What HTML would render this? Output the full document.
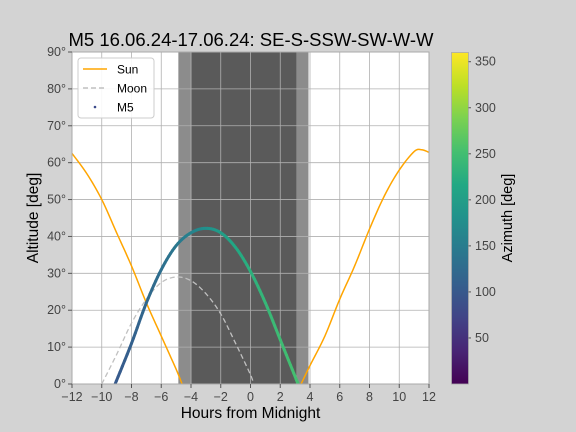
<!DOCTYPE html>
<html><head><meta charset="utf-8"><style>
body{margin:0;background:#d3d3d3}
svg{display:block;font-family:"Liberation Sans","DejaVu Sans",sans-serif}
</style></head><body>
<svg id="c" width="576" height="432" viewBox="0 0 576 432">
<rect width="576" height="432" fill="#d3d3d3"/>
<defs>
<linearGradient id="vir" x1="0" y1="1" x2="0" y2="0">
<stop offset="0" stop-color="#440154"/><stop offset="0.1" stop-color="#482475"/><stop offset="0.2" stop-color="#414487"/><stop offset="0.3" stop-color="#355f8d"/><stop offset="0.4" stop-color="#2a788e"/><stop offset="0.5" stop-color="#21918c"/><stop offset="0.6" stop-color="#22a884"/><stop offset="0.7" stop-color="#44bf70"/><stop offset="0.8" stop-color="#7ad151"/><stop offset="0.9" stop-color="#bddf26"/><stop offset="1" stop-color="#fde725"/>
</linearGradient>
<clipPath id="pc"><rect x="72" y="52" width="357" height="332"/></clipPath>
</defs>
<text x="251" y="46" font-size="18.5" text-anchor="middle">M5 16.06.24-17.06.24: SE-S-SSW-SW-W-W</text>
<rect x="72" y="52" width="357" height="332" fill="#fff"/>
<g id="shade"></g>
<g id="grid"></g>
<g id="series" clip-path="url(#pc)"></g>
<rect x="72" y="52" width="357" height="332" fill="none" stroke="#aaa" stroke-width="1"/>
<g id="ticks"></g>
<text x="250.5" y="418" font-size="15.5" text-anchor="middle">Hours from Midnight</text>
<text transform="translate(38,218) rotate(-90)" font-size="15.5" text-anchor="middle">Altitude [deg]</text>
<g>
<rect x="78" y="58" width="76" height="60" rx="3" fill="#fff" fill-opacity="0.9" stroke="#ccc"/>
<line x1="83" y1="69" x2="107" y2="69" stroke="#ffa500" stroke-width="1.5"/>
<text x="117" y="73.5" font-size="12">Sun</text>
<line x1="83" y1="88" x2="107" y2="88" stroke="#c0c0c0" stroke-width="1.5" stroke-dasharray="5,3"/>
<text x="117" y="92.5" font-size="12">Moon</text>
<circle cx="95" cy="107" r="1.3" fill="#3b4a8a"/>
<text x="117" y="111.5" font-size="12">M5</text>
</g>
<rect x="451.5" y="52.5" width="17" height="331.5" fill="url(#vir)" stroke="#aaa" stroke-width="0.8"/>
<g id="cbt"></g>
<text transform="translate(512,218) rotate(-90)" font-size="14.5" text-anchor="middle">Azimuth [deg]</text>
</svg>
<script>
const sunHours=[-12,-11,-10,-9,-8,-7,-6,-5,-4.6,3.4,4,5,6,7,8,9,10,11,11.5,12];
const sunAlt=[62.5,57,50,41,32,22,13,4,0,0,5,13,23,32,42,51,58,63,63.5,62.8];
const moonHours=[-10,-9,-8,-7,-6,-5,-4,-3,-2,-1,0,0.2];
const moonAlt=[0,8,16.5,23,27.5,29,28,24.5,19,11,2.5,0];
const m5Hours=[-9.1,-8,-7,-6,-5,-4,-3,-2,-1,0,1,2,3,3.2];
const m5Alt=[0,11,22,31,37.5,41,42.2,41,37,30.5,22,12,2,0];
const m5Az=[100,110,120,130,142,158,178,198,215,228,238,246,252,253];
const twilight=[[-4.85,-3.97,'#8c8c8c'],[-3.97,3.1,'#5a5a5a'],[3.1,3.9,'#8c8c8c']];
const xTicks=[-12,-10,-8,-6,-4,-2,0,2,4,6,8,10,12];
const yTicks=[0,10,20,30,40,50,60,70,80,90];
const cbTicks=[50,100,150,200,250,300,350];
const NS='http://www.w3.org/2000/svg';
const X=h=>72+(h+12)/24*357, Y=a=>384-a/90*332, CB=v=>384-v/360*331.5;
function mk(t,a,p){const e=document.createElementNS(NS,t);for(const k in a)e.setAttribute(k,a[k]);document.getElementById(p).appendChild(e);return e;}
const vir=['#440154','#482475','#414487','#355f8d','#2a788e','#21918c','#22a884','#44bf70','#7ad151','#bddf26','#fde725'];
function hx(s){return [1,3,5].map(i=>parseInt(s.substr(i,2),16));}
function viridis(t){t=Math.max(0,Math.min(1,t))*10;const i=Math.min(9,Math.floor(t)),f=t-i;const a=hx(vir[i]),b=hx(vir[i+1]);return 'rgb('+a.map((v,k)=>Math.round(v+(b[k]-v)*f)).join(',')+')';}
// Catmull-Rom smoothing of pixel points
function smooth(px,n){const out=[];for(let i=0;i<px.length-1;i++){const p0=px[Math.max(0,i-1)],p1=px[i],p2=px[i+1],p3=px[Math.min(px.length-1,i+2)];
for(let k=0;k<n;k++){const t=k/n,t2=t*t,t3=t2*t;const f=(a,b,c,d)=>0.5*(2*b+(-a+c)*t+(2*a-5*b+4*c-d)*t2+(-a+3*b-3*c+d)*t3);
out.push([f(p0[0],p1[0],p2[0],p3[0]),f(p0[1],p1[1],p2[1],p3[1]),i+t]);}}
const l=px[px.length-1];out.push([l[0],l[1],px.length-1]);return out;}
twilight.forEach(s=>{const r=mk('rect',{x:X(s[0]),y:52,width:X(s[1])-X(s[0]),height:332,fill:s[2]},'shade');

});
xTicks.forEach(v=>{const l=mk('line',{x1:X(v),x2:X(v),y1:52,y2:384,stroke:'#b0b0b0','stroke-width':0.8},'grid');


mk('line',{x1:X(v),x2:X(v),y1:384,y2:388,stroke:'#555'},'ticks');
const t=mk('text',{x:X(v),y:401,'font-size':12.5,'text-anchor':'middle',fill:'#444'},'ticks');t.textContent=(v<0?'\u2212'+(-v):v);

});
yTicks.forEach(v=>{const l=mk('line',{x1:72,x2:429,y1:Y(v),y2:Y(v),stroke:'#b0b0b0','stroke-width':0.8},'grid');


mk('line',{x1:68,x2:72,y1:Y(v),y2:Y(v),stroke:'#555'},'ticks');
const t=mk('text',{x:66,y:Y(v)+4,'font-size':12.5,'text-anchor':'end',fill:'#444'},'ticks');t.textContent=v+'\u00b0';

});
function spts(h,a){return smooth(h.map((v,i)=>[X(v),Y(a[i])]),8).map(p=>p[0].toFixed(2)+','+p[1].toFixed(2)).join(' ');}
const sun1=mk('polyline',{points:spts(sunHours.slice(0,9),sunAlt.slice(0,9)),fill:'none',stroke:'#ffa500','stroke-width':1.5},'series');


const sun2=mk('polyline',{points:spts(sunHours.slice(9),sunAlt.slice(9)),fill:'none',stroke:'#ffa500','stroke-width':1.5},'series');


const moon=mk('polyline',{points:spts(moonHours,moonAlt),fill:'none',stroke:'#c0c0c0','stroke-width':1.3,'stroke-dasharray':'5,3'},'series');


const m5s=smooth(m5Hours.map((v,i)=>[X(v),Y(m5Alt[i])]),8);
for(let i=0;i<m5s.length-1;i++){
const u=(m5s[i][2]+m5s[i+1][2])/2,j=Math.min(m5Az.length-2,Math.floor(u)),f=u-j;const az=m5Az[j]+(m5Az[j+1]-m5Az[j])*f;
const s=mk('line',{x1:m5s[i][0],y1:m5s[i][1],x2:m5s[i+1][0],y2:m5s[i+1][1],stroke:viridis(az/360),'stroke-width':3,'stroke-linecap':'round'},'series');

}
cbTicks.forEach(v=>{mk('line',{x1:468.5,x2:471,y1:CB(v),y2:CB(v),stroke:'#555'},'cbt');
const t=mk('text',{x:475,y:CB(v)+4,'font-size':12.5,fill:'#444'},'cbt');t.textContent=v;

});
</script>
</body></html>
